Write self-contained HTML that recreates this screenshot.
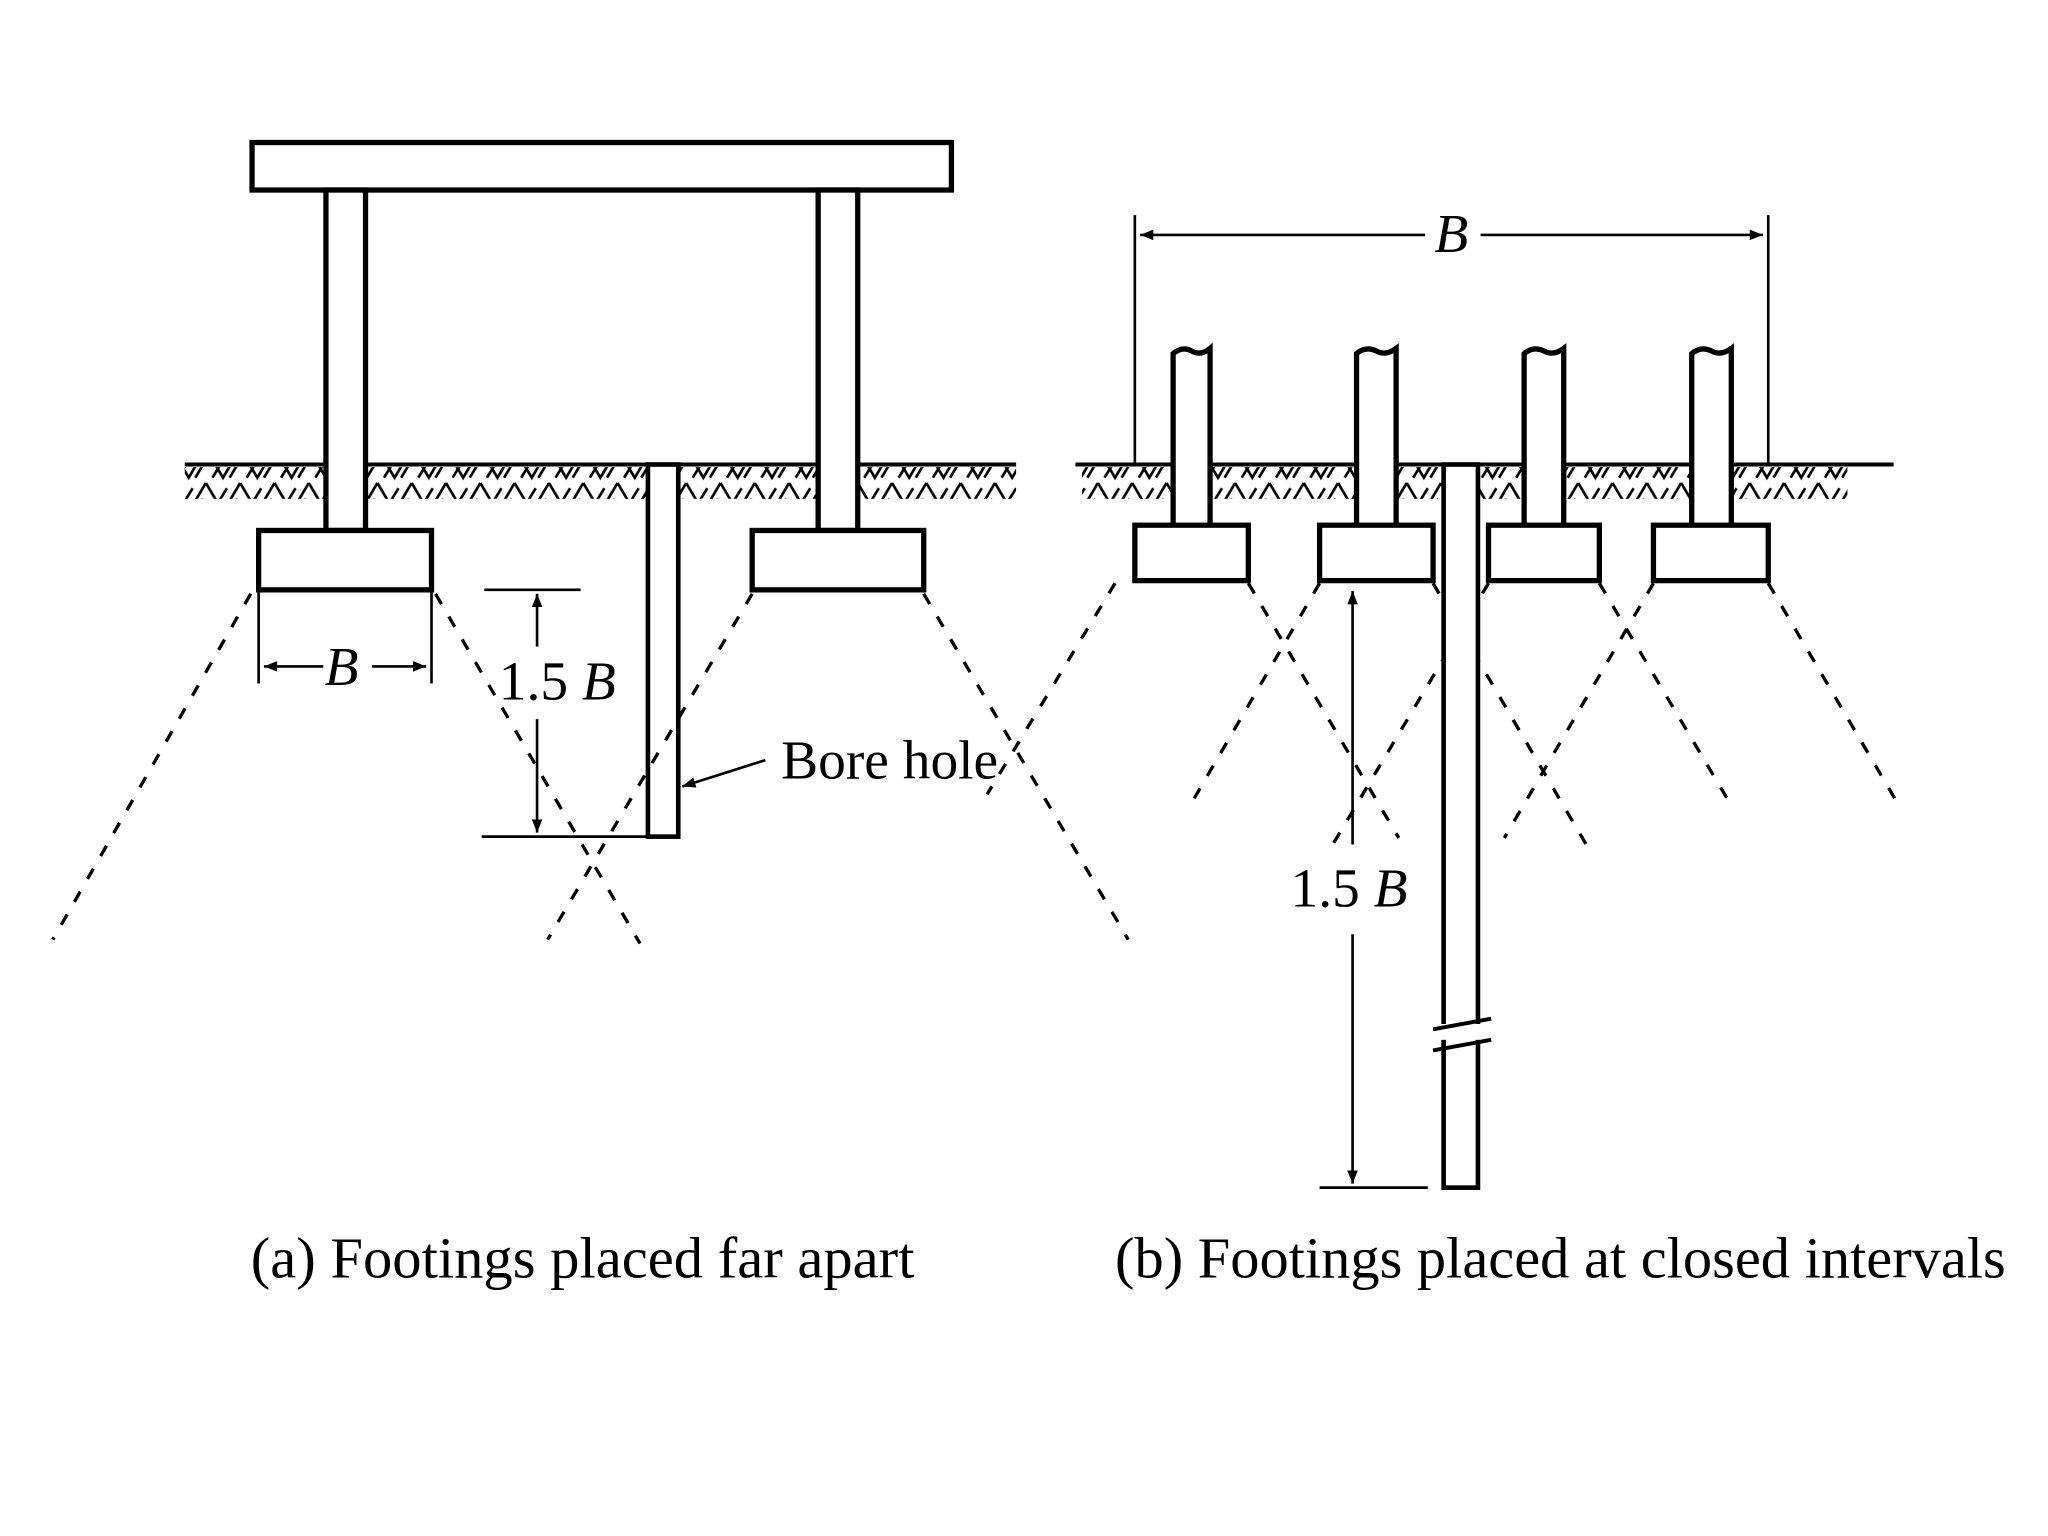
<!DOCTYPE html>
<html><head><meta charset="utf-8"><style>html,body{margin:0;padding:0;background:#fff}svg{display:block}</style></head>
<body>
<svg width="2048" height="1536" viewBox="0 0 1552 1164" xmlns="http://www.w3.org/2000/svg" font-family="Liberation Serif, serif">
<defs>
<pattern id="h" width="26" height="26" patternUnits="userSpaceOnUse">
<path d="M0 2 L13 24 L26 2 M5 24 L16 6 M18 24 L24 14" stroke="#000" stroke-width="2" fill="none"/>
</pattern>
<marker id="a" viewBox="0 0 10 10" refX="10" refY="5" markerWidth="14" markerHeight="10" orient="auto-start-reverse" markerUnits="userSpaceOnUse"><path d="M0 1 L10 5 L0 9 Z" fill="#000"/></marker>
</defs>
<rect width="1552" height="1164" fill="#fff"/>
<g stroke="#000" fill="#fff">
<rect x="140" y="354" width="630" height="24" fill="url(#h)" stroke="none"/>
<rect x="820" y="354" width="580" height="24" fill="url(#h)" stroke="none"/>
<line x1="140" y1="352" x2="770" y2="352" stroke-width="3"/>
<line x1="815" y1="352" x2="1435" y2="352" stroke-width="3"/>
<rect x="191" y="108" width="530" height="36" stroke-width="4"/>
<rect x="247" y="144" width="30" height="258" stroke-width="4"/>
<rect x="620" y="144" width="30" height="258" stroke-width="4"/>
<rect x="196" y="402" width="131" height="45" stroke-width="4"/>
<rect x="570" y="402" width="130" height="45" stroke-width="4"/>
<rect x="491" y="352" width="23" height="282" stroke-width="3.5"/>
<g stroke-width="2.5" stroke-dasharray="9 11" fill="none">
<line x1="190" y1="450" x2="40" y2="712"/>
<line x1="330" y1="450" x2="485" y2="715"/>
<line x1="570" y1="450" x2="415" y2="712"/>
<line x1="700" y1="450" x2="855" y2="712"/>
</g>
<g stroke-width="2" fill="none">
<line x1="196" y1="447" x2="196" y2="518"/>
<line x1="327" y1="447" x2="327" y2="518"/>
<line x1="200" y1="505" x2="245" y2="505" marker-start="url(#a)"/>
<line x1="282" y1="505" x2="323" y2="505" marker-end="url(#a)"/>
<line x1="367" y1="447" x2="440" y2="447"/>
<line x1="365" y1="634" x2="490" y2="634"/>
<line x1="407" y1="450" x2="407" y2="490" marker-start="url(#a)"/>
<line x1="407" y1="545" x2="407" y2="631" marker-end="url(#a)"/>
<line x1="580" y1="576" x2="517" y2="596" marker-end="url(#a)"/>
</g>
<g stroke-width="2" fill="none">
<line x1="860" y1="163" x2="860" y2="352"/>
<line x1="1340" y1="163" x2="1340" y2="352"/>
<line x1="864" y1="178" x2="1080" y2="178" marker-start="url(#a)"/>
<line x1="1122" y1="178" x2="1336" y2="178" marker-end="url(#a)"/>
</g>
<g stroke-width="4">
<path d="M889 398 V268 Q896 262 903 266 Q910 270 917 264 V398" />
<path d="M1028 398 V268 Q1035 262 1043 266 Q1050 270 1058 264 V398" />
<path d="M1155 398 V268 Q1162 262 1170 266 Q1177 270 1185 264 V398" />
<path d="M1282 398 V268 Q1289 262 1297 266 Q1304 270 1312 264 V398" />
<rect x="860" y="398" width="86" height="42"/>
<rect x="1000" y="398" width="86" height="42"/>
<rect x="1128" y="398" width="84" height="42"/>
<rect x="1253" y="398" width="87" height="42"/>
</g>
<g stroke-width="2.5" stroke-dasharray="9 11" fill="none">
<line x1="845" y1="442" x2="748" y2="602"/>
<line x1="946" y1="442" x2="1060" y2="635"/>
<line x1="1000" y1="442" x2="905" y2="605"/>
<line x1="1086" y1="442" x2="1205" y2="645"/>
<line x1="1128" y1="442" x2="1010" y2="640"/>
<line x1="1212" y1="442" x2="1310" y2="607"/>
<line x1="1253" y1="442" x2="1140" y2="635"/>
<line x1="1340" y1="442" x2="1437" y2="607"/>
</g>
<rect x="1094" y="352" width="26" height="548" stroke-width="3.5"/>
<rect x="1088" y="776" width="40" height="12" fill="#fff" stroke="none"/>
<line x1="1086" y1="780" x2="1130" y2="772" stroke-width="3"/>
<line x1="1086" y1="796" x2="1130" y2="788" stroke-width="3"/>
<g stroke-width="2" fill="none">
<line x1="1025" y1="448" x2="1025" y2="640" marker-start="url(#a)"/>
<line x1="1025" y1="708" x2="1025" y2="897" marker-end="url(#a)"/>
<line x1="1000" y1="900" x2="1082" y2="900"/>
</g>
</g>
<g fill="#000" font-size="42">
<text x="246" y="519" font-style="italic">B</text>
<text x="378" y="530">1.5 <tspan font-style="italic">B</tspan></text>
<text x="592" y="590">Bore hole</text>
<text x="1087" y="191" font-style="italic">B</text>
<text x="978" y="687">1.5 <tspan font-style="italic">B</tspan></text>
<text x="190" y="968" font-size="44" textLength="503" lengthAdjust="spacingAndGlyphs">(a) Footings placed far apart</text>
<text x="845" y="968" font-size="44" textLength="675" lengthAdjust="spacingAndGlyphs">(b) Footings placed at closed intervals</text>
</g>
</svg>
</body></html>
